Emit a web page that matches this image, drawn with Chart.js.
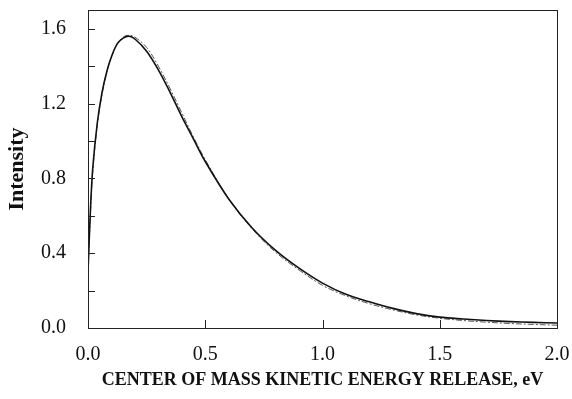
<!DOCTYPE html>
<html>
<head>
<meta charset="utf-8">
<script src="https://cdn.jsdelivr.net/npm/chart.js@4.4.1/dist/chart.umd.min.js"></script>
<style>
  html, body { margin: 0; padding: 0; background: #fff; }
  #wrap { width: 572px; height: 399px; }
</style>
</head>
<body>
<div id="wrap"><canvas id="energyChart" width="572" height="399"></canvas></div>
<script>
// Values
const energy = [0, 0.01, 0.02, 0.04, 0.06, 0.08, 0.1, 0.125, 0.15, 0.175, 0.2, 0.25, 0.3, 0.35, 0.4, 0.45, 0.5,
    0.6, 0.7, 0.8, 0.9, 1.0, 1.1, 1.2, 1.3, 1.4, 1.5, 1.6, 1.7, 1.8, 1.9, 2.0];
const solidIntensity = [0.30, 0.62, 0.85, 1.10, 1.26, 1.37, 1.45, 1.52, 1.55, 1.56, 1.545, 1.48, 1.38, 1.26, 1.13, 1.01, 0.89,
    0.69, 0.535, 0.415, 0.32, 0.24, 0.18, 0.14, 0.105, 0.077, 0.058, 0.048, 0.040, 0.034, 0.030, 0.027];
const dashedIntensity = [0.30, 0.60, 0.83, 1.09, 1.25, 1.37, 1.45, 1.52, 1.555, 1.565, 1.555, 1.50, 1.40, 1.28, 1.15, 1.02, 0.90,
    0.69, 0.53, 0.405, 0.31, 0.228, 0.172, 0.13, 0.097, 0.070, 0.052, 0.040, 0.031, 0.024, 0.019, 0.015];
const xTickValues = [0, 0.5, 1.0, 1.5, 2.0];
const yTickValues = [0, 0.4, 0.8, 1.2, 1.6];
const yMinorTicks = [0.2, 0.4, 0.6, 0.8, 1.0, 1.2, 1.4, 1.6];

const serif = "'Liberation Serif', 'Times New Roman', serif";

// box around plot + inward tick marks
const frame = {
    id: "frame",
    afterDraw(chart) {
        const c = chart.ctx, a = chart.chartArea;
        const xs = chart.scales.x, ys = chart.scales.y;
        c.save();
        c.strokeStyle = "#222";
        c.lineWidth = 1;
        c.strokeRect(a.left + 0.5, a.top + 0.5, a.right - a.left, a.bottom - a.top);
        c.beginPath();
        yMinorTicks.forEach(v => {
            const y = Math.round(ys.getPixelForValue(v)) + 0.5;
            c.moveTo(a.left, y);
            c.lineTo(a.left + 7, y);
        });
        xTickValues.slice(1, -1).forEach(v => {
            const x = Math.round(xs.getPixelForValue(v)) + 0.5;
            c.moveTo(x, a.bottom);
            c.lineTo(x, a.bottom - 8);
        });
        c.stroke();
        c.restore();
    }
};

new Chart(document.getElementById("energyChart").getContext("2d"), {
    type: "line",
    data: {
        datasets: [
            {
                label: "solid",
                data: energy.map((e, i) => ({ x: e, y: solidIntensity[i] })),
                borderColor: "#111",
                borderWidth: 1.6,
                pointRadius: 0,
                tension: 0.35,
                fill: false
            },
            {
                label: "dashed",
                data: energy.map((e, i) => ({ x: e, y: dashedIntensity[i] })),
                borderColor: "#555",
                borderWidth: 1,
                borderDash: [6, 2, 2, 2],
                pointRadius: 0,
                tension: 0.35,
                fill: false
            }
        ]
    },
    options: {
        responsive: false,
        animation: false,
        layout: { padding: { top: 10, right: 15, left: 0, bottom: 0 } },
        plugins: { legend: { display: false }, tooltip: { enabled: false } },
        scales: {
            x: {
                type: "linear",
                min: 0,
                max: 2,
                afterBuildTicks: s => { s.ticks = xTickValues.map(v => ({ value: v })); },
                afterFit: s => { s.height = 71; s.paddingLeft = 0; s.paddingRight = 0; },
                grid: { display: false },
                border: { display: false },
                ticks: {
                    color: "#111",
                    padding: 7,
                    maxRotation: 0,
                    font: { family: serif, size: 20 },
                    callback: v => v.toFixed(1)
                },
                title: {
                    display: true,
                    text: "CENTER OF MASS KINETIC ENERGY RELEASE, eV",
                    color: "#111",
                    padding: { top: 0, bottom: 8 },
                    font: { family: serif, size: 18, weight: "bold" }
                }
            },
            y: {
                min: 0,
                max: 1.7,
                afterBuildTicks: s => { s.ticks = yTickValues.map(v => ({ value: v })); },
                afterFit: s => { s.width = 88; s.paddingTop = 0; s.paddingBottom = 0; },
                grid: { display: false },
                border: { display: false },
                ticks: {
                    color: "#111",
                    padding: 14,
                    font: { family: serif, size: 20 },
                    callback: v => v.toFixed(1)
                },
                title: {
                    display: true,
                    text: "Intensity",
                    color: "#111",
                    padding: { top: 4, bottom: 0 },
                    font: { family: serif, size: 22, weight: "bold" }
                }
            }
        }
    },
    plugins: [frame]
});
</script>
</body>
</html>
